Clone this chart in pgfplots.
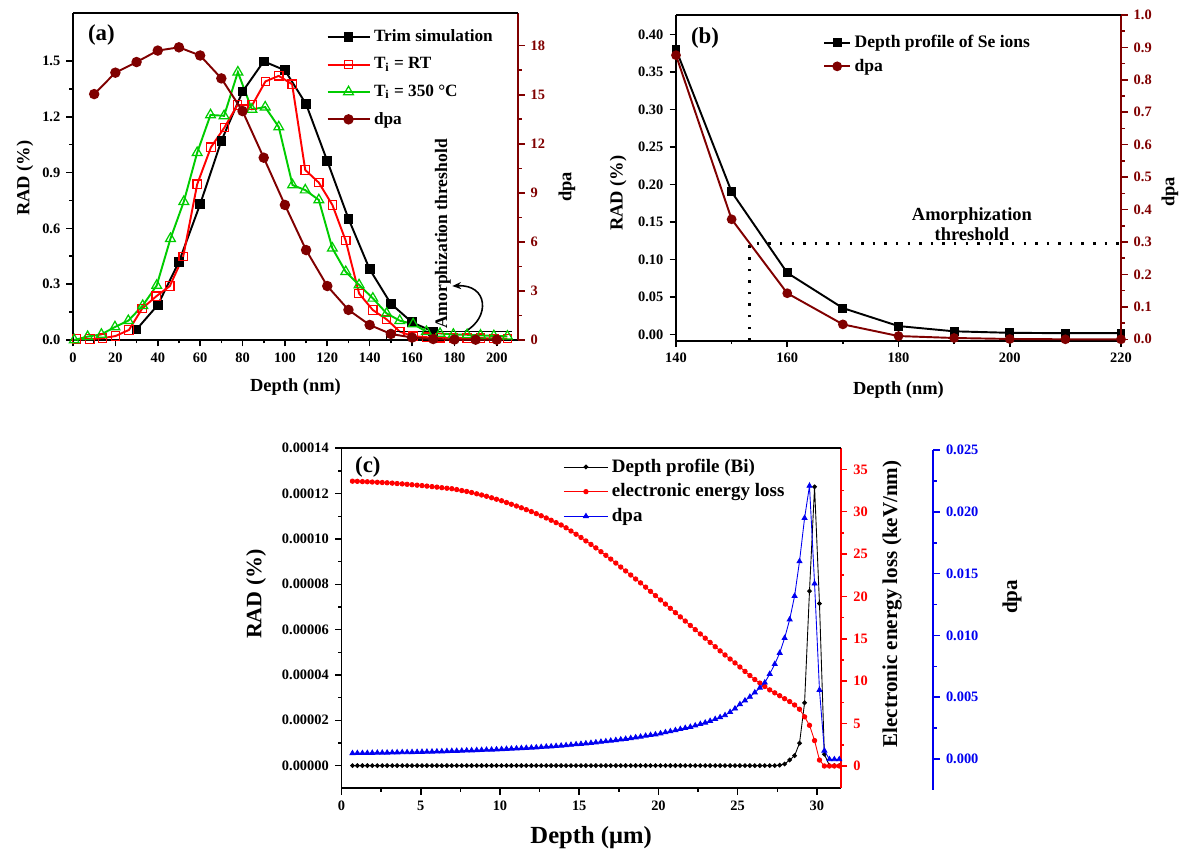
\documentclass[border=0pt]{standalone}
\usepackage{fontspec}
\setmainfont{Liberation Serif}
\usepackage{pgfplots}
\pgfplotsset{compat=1.18}
\usepackage{pgfplotstable}
\usetikzlibrary{arrows.meta}
\definecolor{darkred}{RGB}{128,0,0}
\definecolor{ogreen}{RGB}{0,204,0}
\definecolor{ored}{RGB}{255,0,0}
\definecolor{oblue}{RGB}{0,0,240}

\newcommand{\fs}[1]{\bfseries\fontsize{#1}{#1}\selectfont}

\pgfplotsset{
  base/.style={scale only axis, anchor=south west, tick align=outside,
    axis line style={line width=1.1pt,-},
    major tick length=0.13cm, minor tick length=0.07cm,
    tick style={line width=0.9pt, black},
    tick label style={font=\fs{8.2}},
    label style={font=\fs{10.5}},
    /pgf/number format/assume math mode=true,
    xticklabel={\pgfmathprintnumber{\tick}},
    yticklabel={\pgfmathprintnumber{\tick}},
    scaled ticks=false,
    legend style={draw=none, fill=none, inner sep=0pt, row sep=1pt},
    legend cell align=left,
  },
  prec/.style={yticklabel style={/pgf/number format/fixed, /pgf/number format/fixed zerofill, /pgf/number format/precision=#1}},
  rightax/.style={axis x line=none, axis y line*=right,
    axis line style={line width=1.1pt,-,#1},
    tick style={line width=0.9pt,#1}, yticklabel style={text=#1}},
  trim/.style={black, line width=1.1pt, mark=square*, mark size=2.2pt},
  rt/.style={ored, line width=1.1pt, mark=square, mark size=2.4pt, mark options={fill=white,line width=0.7pt}},
  hot/.style={ogreen, line width=1.1pt, mark=triangle, mark size=3.2pt, mark options={fill=white,line width=0.7pt}},
  dpaA/.style={darkred, line width=1.1pt, mark=*, mark size=2.4pt},
}

% panel (c): depth (um), RAD (%), electronic energy loss (keV/nm), dpa
\pgfplotstableread{
x rad el dpa
0.69 0 33.60 0.00049
1.00 0 33.58 0.00050
1.32 0 33.55 0.00050
1.63 0 33.53 0.00051
1.94 0 33.50 0.00052
2.26 0 33.47 0.00053
2.57 0 33.44 0.00053
2.88 0 33.41 0.00054
3.20 0 33.37 0.00055
3.51 0 33.32 0.00056
3.83 0 33.28 0.00057
4.14 0 33.23 0.00057
4.45 0 33.18 0.00058
4.77 0 33.13 0.00059
5.08 0 33.08 0.00060
5.39 0 33.02 0.00061
5.71 0 32.96 0.00062
6.02 0 32.90 0.00063
6.33 0 32.83 0.00064
6.65 0 32.77 0.00066
6.96 0 32.71 0.00067
7.27 0 32.61 0.00068
7.59 0 32.49 0.00069
7.90 0 32.39 0.00071
8.21 0 32.26 0.00072
8.53 0 32.11 0.00074
8.84 0 31.97 0.00075
9.15 0 31.82 0.00077
9.47 0 31.64 0.00078
9.78 0 31.47 0.00080
10.10 0 31.29 0.00082
10.41 0 31.08 0.00084
10.72 0 30.88 0.00086
11.04 0 30.67 0.00088
11.35 0 30.46 0.00090
11.66 0 30.24 0.00092
11.98 0 30.01 0.00094
12.29 0 29.77 0.00096
12.60 0 29.52 0.00099
12.92 0 29.26 0.00102
13.23 0 28.99 0.00104
13.54 0 28.71 0.00107
13.86 0 28.43 0.00110
14.17 0 28.10 0.00113
14.48 0 27.72 0.00117
14.80 0 27.34 0.00121
15.11 0 26.96 0.00124
15.42 0 26.55 0.00128
15.74 0 26.14 0.00132
16.05 0 25.73 0.00136
16.37 0 25.28 0.00141
16.68 0 24.85 0.00145
16.99 0 24.41 0.00150
17.31 0 23.94 0.00155
17.62 0 23.47 0.00160
17.93 0 23.01 0.00165
18.25 0 22.53 0.00171
18.56 0 22.06 0.00177
18.87 0 21.60 0.00183
19.19 0 21.10 0.00190
19.50 0 20.60 0.00196
19.81 0 20.10 0.00201
20.13 0 19.59 0.00209
20.44 0 19.10 0.00218
20.75 0 18.60 0.00226
21.07 0 18.09 0.00235
21.38 0 17.59 0.00244
21.69 0 17.10 0.00253
22.01 0 16.58 0.00262
22.32 0 16.09 0.00273
22.64 0 15.58 0.00285
22.95 0 15.08 0.00296
23.26 0 14.58 0.00310
23.58 0 14.07 0.00325
23.89 0 13.58 0.00340
24.20 0 13.10 0.00356
24.52 0 12.62 0.00382
24.83 0 12.16 0.00410
25.14 0 11.68 0.00445
25.46 0 11.16 0.00475
25.77 0 10.67 0.00505
26.08 0 10.20 0.00540
26.40 0 9.78 0.00578
26.71 0 9.38 0.00620
27.02 0 8.98 0.00690
27.34 0 8.63 0.00770
27.65 0.0000002 8.29 0.00860
27.96 0.0000007 7.94 0.00980
28.28 0.0000025 7.60 0.01130
28.59 0.0000044 7.20 0.01320
28.90 0.0000099 6.70 0.01600
29.22 0.0000277 5.80 0.01950
29.53 0.0000770 4.80 0.02210
29.85 0.0001230 3.00 0.01420
30.16 0.0000715 0.70 0.00560
30.47 0.0000050 0.00 0.00070
30.79 0 0 0
31.10 0 0 0
31.41 0 0 0
}\tabc

\begin{document}
\begin{tikzpicture}
\useasboundingbox (0,0) rectangle (23.64,17.04);

%% ---------------- panel (a) ----------------
\begin{axis}[base, name=aL, at={(1.46cm,10.24cm)}, width=8.9cm, height=6.54cm,
  axis x line*=bottom, axis y line*=left, clip=false,
  xmin=0, xmax=210, ymin=0, ymax=1.758,
  xtick={0,20,...,200}, minor x tick num=1,
  ytick={0,0.3,0.6,0.9,1.2,1.5}, minor y tick num=1, prec=1,
  xlabel={Depth (nm)}, ylabel={RAD (\%)},
  xlabel style={at={(axis description cs:0.5,-0.144)}, anchor=center},
  ylabel style={at={(axis description cs:-0.108,0.495)}, anchor=center},
]
\addplot[trim] coordinates {(30,0.057)(40,0.188)(50,0.42)(60,0.73)(70,1.07)(80,1.335)(90,1.498)(100,1.45)(110,1.268)(120,0.962)(130,0.652)(140,0.38)(150,0.195)(160,0.095)(170,0.045)};
\addplot[rt] coordinates {(1.6,0.005)(8,0.005)(14,0.01)(20,0.021)(26.4,0.054)(32.7,0.17)(39.3,0.235)(45.7,0.29)(52,0.448)(58.6,0.837)(65.1,1.036)(71.5,1.143)(77.6,1.263)(84.6,1.263)(90.8,1.39)(97.1,1.42)(103.4,1.375)(109.6,0.914)(116,0.846)(122.4,0.726)(128.7,0.534)(135,0.25)(141.5,0.161)(148,0.111)(154.2,0.045)(160.5,0.02)(166.8,0.015)(173.2,0.012)(179.5,0.012)(186,0.01)(192.3,0.01)(198.6,0.008)(205,0.008)};
\addplot[hot] coordinates {(0.6,0.0)(6.9,0.018)(13.4,0.03)(19.8,0.07)(26.1,0.104)(32.9,0.185)(39.5,0.293)(46,0.545)(52.3,0.744)(58.6,1.007)(64.9,1.21)(71.3,1.205)(77.8,1.44)(84.4,1.24)(90.7,1.252)(97.1,1.145)(103.6,0.833)(109.6,0.806)(116,0.753)(122.4,0.493)(128.7,0.367)(135,0.296)(141.5,0.224)(148,0.143)(154.2,0.104)(160.5,0.086)(166.8,0.045)(173.2,0.035)(179.5,0.03)(186,0.028)(192.3,0.025)(198.6,0.022)(205,0.02)};
\draw[line width=0.9pt] (axis cs:148,0) -- (axis cs:148,0.045) -- (axis cs:207,0.045);
\node[rotate=90, font=\fs{10}] at (axis cs:174.6,0.57) {Amorphization threshold};
\draw[-{Stealth[length=5pt,width=4pt]}, line width=0.9pt] (axis cs:185,0.045) .. controls (axis cs:197,0.12) and (axis cs:196,0.30) .. (axis cs:179,0.29);
\node[anchor=west, font=\fs{13}] at (axis description cs:0.02,0.933) {(a)};
\end{axis}

\begin{axis}[base, at={(1.46cm,10.24cm)}, width=8.9cm, height=6.54cm,
  rightax=darkred, clip=false,
  xmin=0, xmax=210, ymin=0, ymax=20,
  ytick={0,3,...,18}, minor y tick num=1,
  ylabel={dpa},
  ylabel style={at={(axis description cs:1.11,0.468)}, anchor=center},
  legend style={at={(axis description cs:0.569,0.96)}, anchor=north west, font=\fs{9.8}, row sep=3.5pt},
  legend image code/.code={\draw[mark repeat=2,mark phase=2] plot coordinates {(0cm,0cm) (0.42cm,0cm) (0.84cm,0cm)};},
]
\addlegendimage{trim}\addlegendentry{Trim simulation}
\addlegendimage{rt}\addlegendentry{T\textsubscript{i} = RT}
\addlegendimage{hot}\addlegendentry{T\textsubscript{i} = 350 °C}
\addplot[dpaA] coordinates {(10,15.04)(20,16.35)(30,17.0)(40,17.7)(50,17.9)(60,17.4)(70,16.0)(80,14.0)(90,11.15)(100,8.26)(110,5.5)(120,3.3)(130,1.84)(140,0.92)(150,0.37)(160,0.15)(170,0.06)(180,0.03)(190,0.02)(200,0.02)};
\addlegendentry{dpa}
\end{axis}
\draw[line width=1.1pt] (aL.north west) -- (aL.north east);

%% ---------------- panel (b) ----------------
\begin{axis}[base, name=bL, at={(13.52cm,10.226cm)}, width=8.9cm, height=6.514cm,
  axis x line*=bottom, axis y line*=left, clip=false,
  xmin=140, xmax=220, ymin=-0.0085, ymax=0.426,
  xtick={140,160,...,220}, minor x tick num=1,
  ytick={0,0.05,0.1,0.15,0.2,0.25,0.3,0.35,0.4}, prec=2,
  xlabel={Depth (nm)}, ylabel={RAD (\%)},
  xlabel style={at={(axis description cs:0.5,-0.151)}, anchor=center},
  ylabel style={at={(axis description cs:-0.130,0.453)}, anchor=center},
]
\addplot[black, line width=1.1pt, mark=square*, mark size=2pt] coordinates {(140,0.38)(150,0.19)(160,0.082)(170,0.035)(180,0.011)(190,0.004)(200,0.002)(210,0.0015)(220,0.0015)};
\draw[line width=1.4pt, dash pattern=on 1.4pt off 5.2pt] (axis cs:153.2,-0.0085) -- (axis cs:153.2,0.121) -- (axis cs:220,0.121);
\node[align=center, font=\fs{10.5}, inner sep=0pt] at (axis cs:193.2,0.147) {Amorphization\\[1pt]threshold};
\node[anchor=west, font=\fs{13}] at (axis description cs:0.02,0.93) {(b)};
\end{axis}

\begin{axis}[base, at={(13.52cm,10.226cm)}, width=8.9cm, height=6.514cm,
  rightax=darkred, clip=false,
  xmin=140, xmax=220, ymin=-0.0043, ymax=1.0,
  ytick={0,0.1,0.2,0.3,0.4,0.5,0.6,0.7,0.8,0.9,1.0}, minor y tick num=1, prec=1,
  ylabel={dpa},
  ylabel style={at={(axis description cs:1.11,0.457)}, anchor=center},
  legend style={at={(axis description cs:0.33,0.95)}, anchor=north west, font=\fs{10}},
  legend image code/.code={\draw[mark repeat=2,mark phase=2] plot coordinates {(0cm,0cm) (0.26cm,0cm) (0.52cm,0cm)};},
]
\addlegendimage{black, line width=1.1pt, mark=square*, mark size=2pt}
\addlegendentry{Depth profile of Se ions}
\addplot[darkred, line width=1.1pt, mark=*, mark size=2.2pt] coordinates {(140,0.876)(150,0.37)(160,0.142)(170,0.046)(180,0.01)(190,0.004)(200,0.001)(210,0.0)(220,0.0)};
\addlegendentry{dpa}
\end{axis}
\draw[line width=1.1pt] (bL.north west) -- (bL.north east);

%% ---------------- panel (c) ----------------
\begin{axis}[base, name=cL, at={(6.83cm,1.274cm)}, width=9.984cm, height=6.8cm,
  axis x line*=bottom, axis y line*=left,
  xmin=0, xmax=31.5, ymin=-0.00001, ymax=0.00014,
  xtick={0,5,...,30}, minor x tick num=1,
  ytick={0,0.00002,0.00004,0.00006,0.00008,0.0001,0.00012,0.00014}, minor y tick num=1,
  prec=5,
  xlabel={Depth (μm)}, ylabel={RAD (\%)},
  xlabel style={at={(axis description cs:0.5,-0.146)}, anchor=center, font=\fs{14}},
  ylabel style={at={(axis description cs:-0.171,0.571)}, anchor=center, font=\fs{12.5}},
]
\addplot[black, line width=0.5pt, mark=*, mark size=1.1pt] table[x=x, y=rad] {\tabc};
\node[anchor=west, font=\fs{13}] at (axis description cs:0.015,0.945) {(c)};
\end{axis}

\begin{axis}[base, at={(6.83cm,1.274cm)}, width=9.984cm, height=6.8cm,
  rightax=ored,
  xmin=0, xmax=31.5, ymin=-2.63, ymax=37.48,
  ytick={0,5,...,35}, minor y tick num=1,
  ylabel={Electronic energy loss (keV/nm)},
  ylabel style={at={(axis description cs:1.103,0.542)}, anchor=center, font=\fs{12}},
]
\addplot[ored, line width=0.5pt, mark=*, mark size=1.25pt] table[x=x, y=el] {\tabc};
\end{axis}

\begin{axis}[base, at={(6.83cm,1.274cm)}, width=9.984cm, height=6.8cm,
  hide axis,
  xmin=0, xmax=31.5, ymin=-0.00234, ymax=0.02514,
  legend style={at={(axis description cs:0.444,0.98)}, anchor=north west, font=\fs{10.8}},
  legend image code/.code={\draw[mark repeat=2,mark phase=2] plot coordinates {(0cm,0cm) (0.44cm,0cm) (0.88cm,0cm)};},
]
\addlegendimage{black, line width=0.5pt, mark=*, mark size=1.1pt}
\addlegendentry{Depth profile (Bi)}
\addlegendimage{ored, line width=0.5pt, mark=*, mark size=1.25pt}
\addlegendentry{electronic energy loss}
\addplot[oblue, line width=0.5pt, mark=triangle*, mark size=1.6pt] table[x=x, y=dpa] {\tabc};
\addlegendentry{dpa}
\end{axis}

\begin{axis}[base, at={(17.666cm,1.24cm)}, width=1cm, height=6.8cm,
  rightax=oblue,
  xmin=0, xmax=1, ymin=-0.0025, ymax=0.025,
  ytick={0,0.005,0.01,0.015,0.02,0.025}, minor y tick num=1, prec=3,
  ylabel={dpa},
  ylabel style={at={(axis description cs:2.574,0.568)}, anchor=center, font=\fs{12}},
]
\addplot[draw=none] coordinates {(0,0)};
\end{axis}
\draw[line width=1.1pt] (cL.north west) -- (cL.north east);
\end{tikzpicture}
\end{document}
